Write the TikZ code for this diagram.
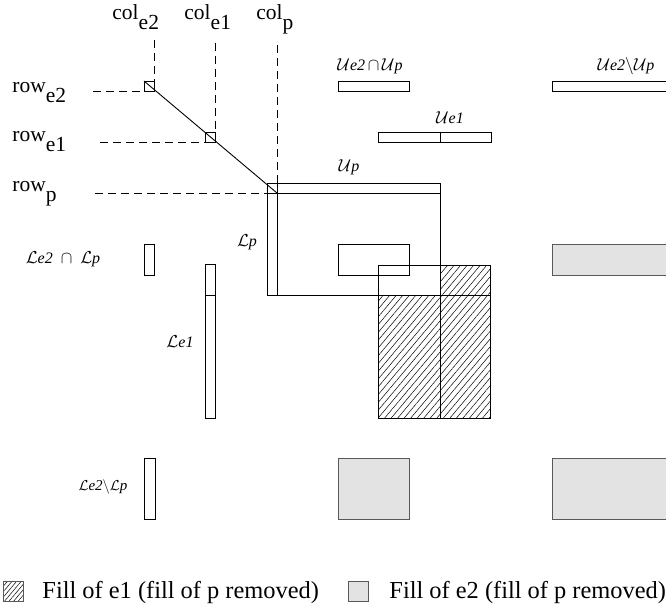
\documentclass[tikz,border=0pt]{standalone}
\usepackage{fontspec}
\setmainfont{Liberation Serif}
\usetikzlibrary{patterns,patterns.meta}
\newcommand\lowsub[1]{\raisebox{-9.5pt}{#1}}
\begin{document}
\begin{tikzpicture}[x=1pt,y=-1pt, line width=0.9pt,
  lbl/.style={inner sep=0pt, anchor=base west, font=\fontsize{21.5}{24}\selectfont},
  setlbl/.style={inner sep=0pt, anchor=base, font=\fontsize{16}{18}\selectfont\itshape},
  legtxt/.style={inner sep=0pt, anchor=base west, font=\fontsize{24.4}{28}\selectfont},
  guide/.style={dash pattern=on 8pt off 5pt, line width=0.8pt},
  greybox/.style={fill=black!11, draw=black!65},
  hatch/.style={pattern={Lines[angle=50,distance=5pt,line width=0.5pt]}},
  hatchs/.style={pattern={Lines[angle=50,distance=3.5pt,line width=0.5pt]}},
]
\useasboundingbox (0,0) rectangle (666,612);

% labels
\node[lbl] (ce2) at (112,20) {col\lowsub{e2}};
\node[lbl] (ce1) at (184,20) {col\lowsub{e1}};
\node[lbl] (cp)  at (256,20) {col\lowsub{p}};
\node[lbl] (re2) at (12,93)  {row\lowsub{e2}};
\node[lbl] (re1) at (12,142) {row\lowsub{e1}};
\node[lbl] (rp)  at (12,192) {row\lowsub{p}};

% key points
\coordinate (sqe2) at (144,81);
\coordinate (sqe1) at (205,132);
\coordinate (sqp)  at (267,183);

% guides
\draw[guide] (154,40) -- (154,81);
\draw[guide] (215,43) -- (215,132);
\draw[guide] (277,45) -- (277,183);
\draw[guide] (93,91) -- (144,91);
\draw[guide] (100,142) -- (205,142);
\draw[guide] (95,193) -- (267,193);

% small squares and diagonal
\draw (sqe2) rectangle ++(10,10);
\draw (sqe1) rectangle ++(10,10);
\draw (sqe2) -- (277,193);

% U sets
\node[setlbl] (ue2up) at (370,71) {$\mathcal{U}$e2\,$\cap$\,$\mathcal{U}$p};
\draw (338,81) rectangle (409,91);
\node[setlbl] (ue2mup) at (626,71) {$\mathcal{U}$e2$\setminus$$\mathcal{U}$p};
\draw (552,81) rectangle (668,91);
\node[setlbl] (ue1) at (450,124) {$\mathcal{U}$e1};
\draw (378,132) rectangle (491,142);
\draw (440,132) -- (440,142);
\node[setlbl] (up) at (349,172) {$\mathcal{U}$p};

% hatched fill of e1
\fill[hatch] (440,265) rectangle (490,295);
\fill[hatch] (378,295) rectangle (490,418);
\draw (378,265) rectangle (490,418);
\draw (440,265) -- (440,418);

% Up / Lp block
\draw (sqp) rectangle (440,193);
\draw (sqp) rectangle (277,295);
\draw (267,295) -- (490,295);
\draw (440,193) -- (440,265);
\draw (338,244) rectangle (409,275);
\node[setlbl] (lp) at (247,247) {$\mathcal{L}$p};

% L sets
\node[setlbl] (le2lp) at (63,263) {$\mathcal{L}$e2\enspace$\cap$\enspace$\mathcal{L}$p};
\draw (144,244) rectangle (154,275);
\draw (205,264) rectangle (215,418);
\draw (205,295) -- (215,295);
\node[setlbl] (le1) at (180,347) {$\mathcal{L}$e1};
\draw[greybox] (552,244) rectangle (668,275);

% bottom row
\node[setlbl, font=\fontsize{15}{16}\selectfont\itshape] (le2mlp) at (103,490) {$\mathcal{L}$e2$\setminus$$\mathcal{L}$p};
\draw (144,458) rectangle (155,519);
\draw[greybox] (338,458) rectangle (409,519);
\draw[greybox] (552,458) rectangle (668,519);

% legend
\draw[hatchs, draw=black!65] (3,581) rectangle (23,601);
\node[legtxt] (leg1) at (42,598) {Fill of e1 (fill of p removed)};
\draw[greybox] (348,581) rectangle (368,601);
\node[legtxt] (leg2) at (389,598) {Fill of e2 (fill of p removed)};
\end{tikzpicture}
\end{document}
